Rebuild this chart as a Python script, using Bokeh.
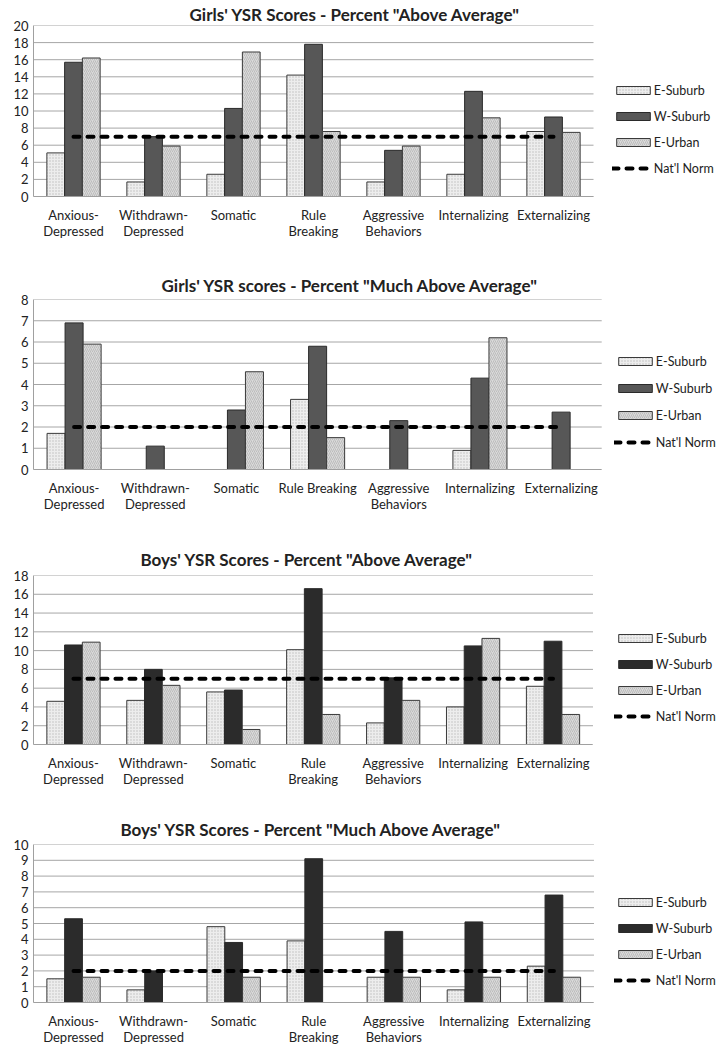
from bokeh.plotting import figure
from bokeh.models import Range1d, Legend, LegendItem, FixedTicker
from bokeh.layouts import column
from bokeh.transform import dodge
from bokeh.embed import file_html
from bokeh.resources import INLINE

# ---------------- data ----------------
series_names = ["E-Suburb", "W-Suburb", "E-Urban"]
norm_name = "Nat'l Norm"

cats_1 = ["Anxious-\nDepressed", "Withdrawn-\nDepressed", "Somatic", "Rule\nBreaking",
          "Aggressive\nBehaviors", "Internalizing", "Externalizing"]
cats_2 = ["Anxious-\nDepressed", "Withdrawn-\nDepressed", "Somatic", "Rule Breaking",
          "Aggressive\nBehaviors", "Internalizing", "Externalizing"]

titles = ["Girls' YSR Scores - Percent \"Above Average\"",
          "Girls' YSR scores - Percent \"Much Above Average\"",
          "Boys' YSR  Scores - Percent \"Above Average\"",
          "Boys' YSR Scores - Percent \"Much Above Average\""]

girls_above_e_suburb = [5.1, 1.7, 2.6, 14.2, 1.7, 2.6, 7.6]
girls_above_w_suburb = [15.7, 7.0, 10.3, 17.8, 5.4, 12.3, 9.3]
girls_above_e_urban = [16.2, 5.9, 16.9, 7.6, 5.9, 9.2, 7.5]
girls_above_norm = [7, 7, 7, 7, 7, 7, 7]

girls_much_e_suburb = [1.7, 0, 0, 3.3, 0, 0.9, 0]
girls_much_w_suburb = [6.9, 1.1, 2.8, 5.8, 2.3, 4.3, 2.7]
girls_much_e_urban = [5.9, 0, 4.6, 1.5, 0, 6.2, 0]
girls_much_norm = [2, 2, 2, 2, 2, 2, 2]

boys_above_e_suburb = [4.6, 4.7, 5.6, 10.1, 2.3, 4.0, 6.2]
boys_above_w_suburb = [10.6, 8.0, 5.8, 16.6, 7.1, 10.5, 11.0]
boys_above_e_urban = [10.9, 6.3, 1.6, 3.2, 4.7, 11.3, 3.2]
boys_above_norm = [7, 7, 7, 7, 7, 7, 7]

boys_much_e_suburb = [1.5, 0.8, 4.8, 3.9, 1.6, 0.8, 2.3]
boys_much_w_suburb = [5.3, 2.0, 3.8, 9.1, 4.5, 5.1, 6.8]
boys_much_e_urban = [1.6, 0, 1.6, 0, 1.6, 1.6, 1.6]
boys_much_norm = [2, 2, 2, 2, 2, 2, 2]

y_ticks_1 = [0, 2, 4, 6, 8, 10, 12, 14, 16, 18, 20]
y_ticks_2 = [0, 1, 2, 3, 4, 5, 6, 7, 8]
y_ticks_3 = [0, 2, 4, 6, 8, 10, 12, 14, 16, 18]
y_ticks_4 = [0, 1, 2, 3, 4, 5, 6, 7, 8, 9, 10]

FONT = "Lato"
FULL_W = 720


def build(title, cats, es, ws, eu, norm, yticks, wcolor, g):
    n = len(cats)
    idx = list(range(n))
    lb = g["fl"]
    tb = g["ft"] - g["top"]
    bb = g["bot"] - g["fb"]
    cw = (g["fr"] - g["fl"]) / n           # pixels per category
    x_end = n - 0.5 + (FULL_W - g["fr"]) / cw
    p = figure(x_range=Range1d(-0.5, x_end), y_range=Range1d(yticks[0], yticks[-1]),
               width=FULL_W, height=g["bot"] - g["top"],
               output_backend="svg", toolbar_location=None,
               min_border_left=lb, min_border_right=0,
               min_border_top=tb, min_border_bottom=bb)
    # horizontal grid lines limited to the category area
    p.segment(x0=-0.5, x1=n - 0.5, y0="y", y1="y", source=dict(y=yticks),
              line_color="#a6a6a6", line_width=1)

    data = dict(idx=idx, es=es, ws=ws, eu=eu, norm=norm)
    bw = 0.222
    r1 = p.vbar(x=dodge("idx", -bw), top="es", width=bw, source=data,
                fill_color="#ededed", line_color="#3a3a3a", line_width=1,
                hatch_pattern="dot", hatch_scale=3, hatch_color="#bdbdbd", hatch_weight=0.6)
    r2 = p.vbar(x=dodge("idx", 0), top="ws", width=bw, source=data,
                fill_color=wcolor, line_color="#2a2a2a", line_width=1)
    r3 = p.vbar(x=dodge("idx", bw), top="eu", width=bw, source=data,
                fill_color="#dadada", line_color="#3a3a3a", line_width=1,
                hatch_pattern="right_diagonal_line", hatch_scale=4, hatch_color="#a8a8a8",
                hatch_weight=0.6)
    r4 = p.line(x="idx", y="norm", source=data, line_color="black", line_width=4,
                line_dash="6 8", line_cap="round")

    sp = g["sp"]
    h = 4 * 20 + 3 * sp
    top = g["lc"] - 10
    vx = g["lx"] - 4.2 - g["fl"]
    vy = g["fb"] - (top + h)
    legend = Legend(items=[LegendItem(label=series_names[0], renderers=[r1]),
                           LegendItem(label=series_names[1], renderers=[r2]),
                           LegendItem(label=series_names[2], renderers=[r3]),
                           LegendItem(label=norm_name, renderers=[r4])],
                    location=(vx, vy), orientation="vertical",
                    glyph_width=42, glyph_height=10, label_height=20, spacing=sp,
                    padding=0, margin=0, label_standoff=0,
                    border_line_color=None, background_fill_alpha=0,
                    label_text_font=FONT, label_text_font_size="12.5px",
                    label_text_color="#222222")
    p.add_layout(legend, "center")

    p.title.text = title
    p.title.align = "left"
    p.title.offset = g["tx"] - g["fl"]
    p.title.text_font = FONT
    p.title.text_font_style = "bold"
    p.title.text_font_size = "17px"
    p.title.text_color = "#222222"
    p.title.standoff = g["ts"]

    p.outline_line_color = None
    p.xgrid.grid_line_color = None
    p.ygrid.grid_line_color = None
    p.yaxis.ticker = FixedTicker(ticks=yticks)
    p.xaxis.ticker = FixedTicker(ticks=idx)
    p.xaxis.major_label_overrides = {i: c for i, c in zip(idx, cats)}
    p.xaxis.bounds = (-0.5, n - 0.5)
    for ax in (p.xaxis[0], p.yaxis[0]):
        ax.axis_line_color = "#a0a0a0"
        ax.major_tick_line_color = None
        ax.minor_tick_line_color = None
        ax.major_tick_out = 0
        ax.major_tick_in = 0
        ax.minor_tick_out = 0
        ax.minor_tick_in = 0
        ax.major_label_text_font = FONT
        ax.major_label_text_font_size = "13px"
        ax.major_label_text_color = "#222222"
    p.xaxis.major_label_text_line_height = 1.05
    p.xaxis.major_label_standoff = 10
    p.yaxis.major_label_standoff = 5
    return p


geoms = [
    dict(top=0, ft=24, fb=196, fl=33, fr=593, bot=268, lx=616, lc=90, sp=6, tx=189, ts=2),
    dict(top=268, ft=297, fb=469, fl=26, fr=600, bot=540, lx=611, lc=361, sp=7, tx=154, ts=8),
    dict(top=540, ft=573, fb=744, fl=25, fr=591, bot=812, lx=610, lc=638, sp=6, tx=132, ts=12),
    dict(top=812, ft=842, fb=1003, fl=25, fr=592, bot=1048, lx=610, lc=903, sp=6, tx=112, ts=9),
]

p1 = build(titles[0], cats_1, girls_above_e_suburb, girls_above_w_suburb, girls_above_e_urban,
           girls_above_norm, y_ticks_1, "#575757", geoms[0])
p2 = build(titles[1], cats_2, girls_much_e_suburb, girls_much_w_suburb, girls_much_e_urban,
           girls_much_norm, y_ticks_2, "#575757", geoms[1])
p3 = build(titles[2], cats_1, boys_above_e_suburb, boys_above_w_suburb, boys_above_e_urban,
           boys_above_norm, y_ticks_3, "#2b2b2b", geoms[2])
p4 = build(titles[3], cats_1, boys_much_e_suburb, boys_much_w_suburb, boys_much_e_urban,
           boys_much_norm, y_ticks_4, "#2b2b2b", geoms[3])

layout = column(p1, p2, p3, p4, spacing=0)
open("out.html", "w").write(file_html(layout, INLINE))
